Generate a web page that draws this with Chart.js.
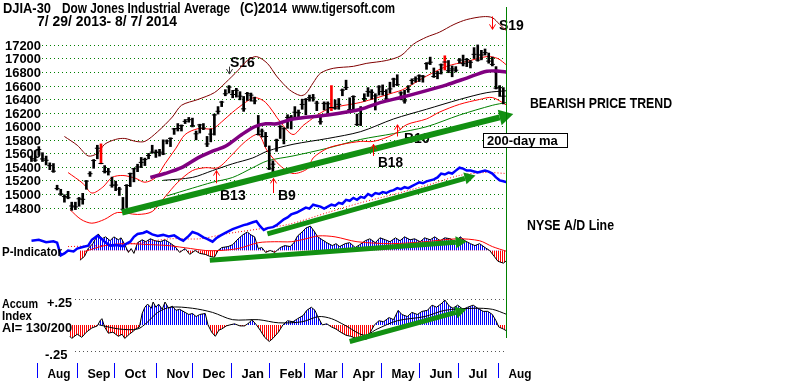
<!DOCTYPE html>
<html>
<head>
<meta charset="utf-8">
<title>DJIA-30 Dow Jones Industrial Average</title>
<script src="https://cdn.jsdelivr.net/npm/chart.js@4.4.0/dist/chart.umd.min.js"></script>
<style>
  html, body { margin: 0; padding: 0; background: #fff; }
  #wrap { width: 800px; height: 387px; }
</style>
</head>
<body>
<div id="wrap"><canvas id="chart" width="800" height="387"></canvas></div>
<script>
// trading day number, 0 = 7/29/2013 ... 259 = 8/7/2014 (one bar every 2nd day)
var priceDay = [0,2,4,6,8,10,12,14,16,18,20,22,24,26,28,30,32,34,36,38,40,42,44,46,48,50,52,54,56,58,
  60,62,64,66,68,70,72,74,76,78,80,82,84,86,88,90,92,94,96,98,100,102,104,106,108,110,112,114,116,118,
  120,122,124,126,128,130,132,134,136,138,140,142,144,146,148,150,152,154,156,158,160,162,164,166,168,170,172,174,176,178,
  180,182,184,186,188,190,192,194,196,198,200,202,204,206,208,210,212,214,216,218,220,222,224,226,228,230,232,234,236,238,
  240,242,244,246,248,250,252,254,256,258];

var priceHigh = [
  15560,15640,15700,15610,15560,15460,15450,15130,15070,14990,
  15040,14880,14880,14950,15010,15200,15330,15510,15720,15740,
  15420,15380,15250,15190,15100,14950,15140,15310,15380,15440,
  15540,15530,15600,15720,15650,15660,15800,15800,15830,15970,
  16040,16020,16100,16130,16120,15930,16030,16040,15850,15960,
  16180,16290,16370,16540,16600,16530,16560,16510,16440,16500,
  16490,16430,16160,15960,15910,15710,15490,15810,16010,15980,
  16170,16160,16290,16240,16400,16410,16460,16470,16370,16150,
  16360,16360,16600,16390,16410,16550,16680,16420,16450,16180,
  16290,16480,16570,16540,16480,16600,16610,16540,16650,16710,
  16760,16510,16530,16600,16700,16730,16760,16750,16940,17020,
  16860,16810,16920,17040,16970,16890,16880,17000,17050,17000,
  16970,17160,17200,17120,17140,17080,17020,16880,16600,16570];

var priceLow = [
  15480,15480,15570,15480,15430,15360,15320,15060,14980,14880,
  14930,14760,14770,14820,14850,15070,15260,15380,15520,15445,
  15310,15280,15100,15050,14980,14760,14800,15110,15180,15330,
  15390,15420,15520,15600,15540,15560,15580,15740,15700,15880,
  15930,15930,16040,16060,15990,15800,15900,15950,15700,15770,
  15870,16180,16290,16450,16490,16420,16430,16390,16220,16380,
  16370,16330,15870,15840,15700,15360,15330,15630,15820,15740,
  15970,15960,16100,16130,16250,16170,16370,16370,16230,16030,
  16240,16190,16230,16250,16250,16450,16540,16230,16240,16010,
  16010,16370,16440,16400,16240,16460,16460,16390,16490,16580,
  16600,16390,16340,16500,16620,16650,16660,16650,16840,16910,
  16720,16700,16770,16830,16790,16730,16800,16930,16890,16880,
  16860,17000,16960,16980,17050,16930,16890,16550,16440,16330];

var priceClose = [
  15521,15500,15658,15518,15498,15419,15337,15081,15002,14963,
  14946,14824,14810,14930,14922,15191,15300,15494,15676,15451,
  15334,15328,15130,15133,15073,14776,15126,15301,15373,15399,
  15467,15509,15568,15618,15615,15618,15593,15783,15821,15961,
  15967,16009,16072,16097,16008,15889,16020,15973,15739,15884,
  16167,16221,16357,16479,16577,16469,16530,16444,16257,16482,
  16459,16374,15879,15929,15849,15373,15441,15794,15994,15963,
  16130,16134,16207,16199,16322,16395,16421,16418,16341,16066,
  16337,16331,16277,16268,16323,16533,16573,16246,16437,16027,
  16262,16409,16514,16501,16448,16581,16513,16402,16551,16696,
  16613,16492,16374,16543,16676,16699,16744,16738,16924,16945,
  16734,16781,16906,16948,16819,16846,16827,16976,16924,16985,
  16944,17061,16976,17052,17086,16961,16913,16563,16569,16444];

var redBarDay = [38, 164, 226];

// upper band (dark red)
var bandUpDay = [18,25,31,36,40,46,51,57,62,69,77,82,91,100,106,113,118,123,129,134,141,147,150,154,158,165,176,183,194,202,209,216,223,231,238,247,252,256,260];
var bandUp = [15849,15720,15562,15600,15734,15806,15820,15777,15777,15921,16136,16309,16395,16496,16640,16826,16970,17028,16927,16740,16539,16453,16481,16640,16783,16855,16884,16927,16970,17042,17214,17315,17387,17502,17574,17617,17602,17502,17401];

// red bands
var redHiDay = [20,28,33,39,44,50,57,62,68,73,79,84,91,99,104,110,117,122,128,136,143,149,162,180,198,203,216,227,238,249,255,260];
var redHi = [15317,15159,15015,15102,15245,15274,15231,15174,15245,15447,15677,15878,15964,15964,16065,16208,16352,16424,16352,16065,15878,16022,16251,16352,16496,16539,16740,16884,16956,17028,16999,16898];
var redLoDay = [21,27,33,40,47,58,66,73,80,88,95,102,110,117,124,129,136,143,151,154,162,170,180,187,198,205,216,223,234,245,252,260];
var redLo = [14771,14627,14570,14627,14728,14699,14742,14958,15174,15346,15389,15389,15590,15777,15878,15633,15418,15303,15375,15533,15677,15734,15777,15777,15878,16022,16108,16208,16323,16395,16424,16309];

// moving averages
var ma50Day = [65,73,82,91,99,106,115,122,128,134,143,162,180,191,202,216,227,238,249,256,260];
var ma50 = [15245,15303,15389,15533,15633,15705,15878,15993,16036,16036,16108,16165,16251,16352,16424,16525,16611,16711,16812,16812,16798];
var maBlackDay = [72,88,99,110,121,129,143,162,180,198,216,234,249,260];
var maBlack = [15202,15245,15346,15447,15533,15633,15734,15820,15921,16108,16251,16395,16496,16525];
var ma200Day = [74,88,99,110,121,129,143,162,180,198,216,234,252,260];
var ma200 = [14972,15087,15174,15245,15389,15490,15562,15677,15806,15892,15993,16165,16309,16352];

// NYSE A/D line and its average
var adDay = [0,4,8,12,14,16,18,20,23,25,28,31,33,36,38,40,43,46,50,52,54,56,58,61,63,66,69,72,75,78,81,83,86,88,91,94,96,99,101,103,106,110,113,116,118,121,123,125,127,129,
  132,134,136,138,140,142,145,148,150,152,154,156,158,160,162,164,166,168,170,172,174,176,178,180,182,184,186,188,190,192,194,196,198,200,202,204,206,208,210,212,214,216,218,220,222,224,226,228,230,232,234,236,238,240,242,244,246,248,250,252,254,256,258,260];
var adLine = [1140,1150,1125,1135,1120,990,1010,1040,1030,1060,1075,1090,1150,1190,1165,1130,1090,1095,1085,1110,1130,1180,1210,1220,1235,1205,1190,1200,1185,1195,1160,1140,1190,1230,1210,1175,1160,1130,1165,1190,1220,1260,1280,1300,1310,1330,1340,1290,1250,1270,
  1280,1300,1330,1360,1380,1410,1430,1460,1480,1470,1510,1500,1490,1470,1490,1510,1500,1530,1520,1560,1550,1580,1560,1590,1580,1620,1600,1630,1620,1640,1630,1650,1660,1680,1670,1690,1680,1700,1720,1740,1730,1750,1760,1770,1790,1830,1820,1840,1830,1860,1890,1880,1860,1860,1850,1840,1850,1860,1850,1830,1790,1760,1750,1740];
var adMaDay = [20,37,55,76,92,106,124,141,162,180,201,220,234,248,260];
var adMa = [1080,1090,1110,1160,1160,1210,1260,1310,1430,1530,1630,1730,1810,1840,1830];

// P-Indicator
var pIndDay = [26.5,29,31,33.5,36.5,38.5,40.5,43,45,47.5,49,51,53,54.5,56,58,60.5,62.5,65,67.5,70.5,73,75.5,78.5,81,84,86.5,89.5,92,95,97.5,100,102,104,107.5,110,113,115.5,118,120,
  122,124,126,128,130.5,133,136,138.5,141.5,143.5,145.5,148,150,152.5,154.5,156.5,159,161.5,164.5,166.5,168.5,171.5,174,177,179.5,182.5,185,188,190.5,193.5,
  196,199,201.5,204,207,209.5,212.5,215,218,220.5,223.5,226,229,231.5,234.5,237,240,242.5,245,248,250.5,253,255,258,260];
var pInd = [-40,-24,8,28,68,48,56,40,56,44,52,24,-8,8,-12,32,44,36,48,40,36,44,32,16,-8,8,-16,0,-12,-16,-24,-28,0,12,16,24,48,64,76,64,
  56,8,12,-8,0,-8,12,20,16,32,60,76,92,100,80,56,44,32,20,28,16,28,32,12,24,40,48,32,52,44,
  36,52,40,56,44,48,36,52,44,56,40,52,48,36,56,40,28,20,28,12,0,-24,-44,-52,-40];
var pMaDay = [29,40,51,65,75,87,95,103,113,124,133,142,150,157,166,178,197,215,233,245,252,260];
var pMa = [-4,20,28,24,20,8,0,0,8,32,36,36,48,60,56,36,28,36,48,40,16,-4];

// Accumulation Index
var aiDay = [21,22,25,27.5,30,33,36,37.5,38.5,40,42,44.5,47.5,49.5,51,53.5,55,57,59,60.5,62,63.5,65.5,66.5,68,69.5,71.5,73,75,77,79,81,84,86,88,90,92,95,96.5,98.5,
  100.5,102.5,104,106.5,108.5,111,114,116.5,119,120.5,123,125,127.5,130,132,135,137.5,140,143,145.5,148.5,150.5,153,155,156.5,159,161.5,164,166.5,169,
  172,174.5,177.5,180,183,185,187.5,190,192.5,195.5,198,200.5,202.5,205.5,208,211,213.5,216.5,219,221.5,224.5,226,228.5,230.5,233,236,238.5,241.5,244,247,249.5,252,254,255.5,258,260];
var accum = [-0.11,-0.13,-0.09,-0.12,-0.07,-0.03,-0.01,0.04,0.06,-0.02,-0.08,-0.07,-0.11,-0.09,-0.13,-0.09,-0.07,-0.04,-0.02,0.11,0.17,0.2,0.16,0.22,0.17,0.2,0.15,0.22,0.16,0.18,0.14,0.15,0.12,0.1,0.11,0.08,0.1,0.11,0,-0.07,
  -0.11,-0.05,-0.04,-0.01,0,0.01,-0.01,-0.01,0.02,0.05,0,-0.05,-0.12,-0.16,-0.13,-0.07,0,0.04,0.03,0.06,0.09,0.14,0.17,0.14,0.08,0,0.01,-0.02,-0.04,-0.07,
  -0.1,-0.11,-0.13,-0.12,-0.14,-0.08,0,0.04,0.03,0.07,0.05,0.14,0.1,0.08,0.12,0.1,0.13,0.14,0.19,0.17,0.21,0.24,0.18,0.16,0.19,0.15,0.17,0.19,0.16,0.13,0.13,0.1,0.04,-0.02,-0.04,-0.06];
var aiMaDay = [37,48,58,63,69,76,88,99,110,124,135,148,157,164,171,182,189,200,215,226,242,252,260];
var aiMa = [0,-0.04,-0.04,0.02,0.12,0.17,0.16,0.12,0.05,0.05,0.02,0.03,0.08,0.06,0,-0.1,-0.04,0.04,0.08,0.14,0.16,0.15,0.1];

// green trend lines
var trendPriceDay = [49.5, 256], trendPrice = [14728, 16130];
var trendAdDay = [129, 237], trendAd = [1210, 1780];
var trendPiDay = [97.5, 232], trendPi = [-40, 34];
var trendAiDay = [174, 232], trendAi = [-0.16, 0.12];

var priceTicks = [14800,15000,15200,15400,15600,15800,16000,16200,16400,16600,16800,17000,17200];
var aiTicks = [0.25, -0.25];
var monthStart = [3,25,45,68,88,109,130,149,170,191,212,233,255];
var monthLabel = ['Aug','Sep','Oct','Nov','Dec','Jan','Feb','Mar','Apr','May','Jun','Jul','Aug'];

// signals: name, day, arrow tail and tip (price)
var signalName = ['S16','S19','B13','B9','B18','B10'];
var signalDay = [108, 251.8, 100.9, 132, 186.7, 199.8];
var signalFrom = [16880, 17620, 15159, 15015, 15562, 15849];
var signalTo = [16770, 17430, 15346, 15231, 15734, 16022];

var FONT = '"Liberation Sans", Arial, sans-serif';
var GREEN = '#129012';

function pts(days, vals) {
    return days.map(function(d, i){ return {x: d, y: vals[i]}; });
}

function stripes(ctx, color) {
    var c = document.createElement('canvas');
    c.width = 2; c.height = 1;
    var g = c.getContext('2d');
    g.fillStyle = color;
    g.fillRect(0, 0, 1, 1);
    return ctx.createPattern(c, 'repeat');
}

function text(ctx, s, x, y, size, maxW, align) {
    ctx.font = 'bold ' + size + 'px ' + FONT;
    ctx.textAlign = align || 'left';
    ctx.fillText(s, x, y, maxW);
}

function arrowHead(ctx, x, y, ang, len, half) {
    ctx.beginPath();
    ctx.moveTo(x + Math.cos(ang) * len, y + Math.sin(ang) * len);
    ctx.lineTo(x - Math.sin(ang) * half, y + Math.cos(ang) * half);
    ctx.lineTo(x + Math.sin(ang) * half, y - Math.cos(ang) * half);
    ctx.closePath();
    ctx.fill();
}

var tigerDecor = {
    id: 'tigerDecor',
    beforeDatasetsDraw: function(chart) {
        var ctx = chart.ctx, yP = chart.scales.yP, yAI = chart.scales.yAI;
        ctx.save();
        ctx.lineWidth = 1;
        ctx.setLineDash([1, 3]);
        ctx.strokeStyle = '#008000';
        priceTicks.forEach(function(v){
            var py = Math.round(yP.getPixelForValue(v)) + 0.5;
            ctx.beginPath(); ctx.moveTo(42, py); ctx.lineTo(506, py); ctx.stroke();
        });
        ctx.strokeStyle = '#555';
        aiTicks.forEach(function(v){
            var py = Math.round(yAI.getPixelForValue(v)) + 0.5;
            ctx.beginPath(); ctx.moveTo(75, py); ctx.lineTo(506, py); ctx.stroke();
        });
        ctx.setLineDash([]);

        // signal labels sit under the trend arrows
        ctx.fillStyle = '#000';
        text(ctx, 'S16', 230, 67, 14, 26);
        text(ctx, 'S19', 499, 30, 14, 25);
        text(ctx, 'B13', 220, 200, 14, 26);
        text(ctx, 'B9', 278, 200, 14, 19);
        text(ctx, 'B18', 378, 167, 14, 25);
        text(ctx, 'B10', 404, 143, 14, 32);
        ctx.restore();
    },
    afterDatasetsDraw: function(chart) {
        var ctx = chart.ctx, xs = chart.scales.x, yP = chart.scales.yP;
        ctx.save();

        // heads of the green trend lines
        chart.data.datasets.forEach(function(ds, i){
            if (!ds.arrowHead) return;
            var el = chart.getDatasetMeta(i).data;
            var a = el[el.length - 2], b = el[el.length - 1];
            ctx.fillStyle = GREEN;
            arrowHead(ctx, b.x, b.y, Math.atan2(b.y - a.y, b.x - a.x), ds.headLen, ds.headHalf);
        });

        // buy / sell arrows
        ctx.lineWidth = 1;
        signalName.forEach(function(n, i){
            var px = Math.round(xs.getPixelForValue(signalDay[i])) + 0.5;
            var y1 = yP.getPixelForValue(signalFrom[i]), y2 = yP.getPixelForValue(signalTo[i]);
            var d = y2 < y1 ? 1 : -1;
            ctx.strokeStyle = n === 'S16' ? '#333' : '#ff0000';
            ctx.beginPath();
            ctx.moveTo(px, y1); ctx.lineTo(px, y2);
            ctx.moveTo(px - 3, y2 + 5 * d); ctx.lineTo(px, y2); ctx.lineTo(px + 3, y2 + 5 * d);
            ctx.stroke();
        });

        // last-day marker
        var gx = Math.round(xs.getPixelForValue(259.7)) + 0.5;
        ctx.strokeStyle = '#008000';
        ctx.lineWidth = 1;
        ctx.beginPath(); ctx.moveTo(gx, 7); ctx.lineTo(gx, 338); ctx.stroke();

        // months
        ctx.strokeStyle = '#0000ff';
        ctx.fillStyle = '#000';
        monthStart.forEach(function(d, i){
            var mx = Math.round(xs.getPixelForValue(d)) + 0.5;
            ctx.beginPath(); ctx.moveTo(mx, 363); ctx.lineTo(mx, 378); ctx.stroke();
            text(ctx, monthLabel[i], mx + 10, 378, 13, 23);
        });

        // price scale labels
        priceTicks.forEach(function(v){
            text(ctx, String(v), 41, Math.round(yP.getPixelForValue(v)) + 5, 13, 36, 'right');
        });

        text(ctx, 'DJIA-30', 3, 13, 14, 48);
        text(ctx, 'Dow Jones Industrial Average', 62, 13, 14, 168);
        text(ctx, '(C)2014', 240, 13, 14, 47);
        text(ctx, 'www.tigersoft.com', 292, 13, 14, 103);
        text(ctx, '7/ 29/ 2013- 8/ 7/ 2014', 37, 26, 14, 140);

        text(ctx, 'BEARISH PRICE TREND', 530, 108, 14, 142);
        ctx.fillStyle = '#fff';
        ctx.fillRect(483, 133, 84, 14);
        ctx.strokeStyle = '#000';
        ctx.strokeRect(483.5, 133.5, 84, 14);
        ctx.fillStyle = '#000';
        text(ctx, '200-day ma', 487, 145, 13, 72);
        text(ctx, 'NYSE A/D Line', 527, 230, 14, 87);

        text(ctx, 'P-Indicator', 2, 256, 13, 60);
        text(ctx, 'Accum', 2, 308, 13, 36);
        text(ctx, '+.25', 47, 307, 13, 25);
        text(ctx, 'Index', 2, 320, 13, 30);
        text(ctx, 'AI= 130/200', 2, 332, 13, 70);
        text(ctx, '-.25', 45, 359, 13, 25);
        ctx.restore();
    }
};

var canvas = document.getElementById('chart');
var ctx = canvas.getContext('2d');
var blueBars = stripes(ctx, '#0000ff');
var redBars = stripes(ctx, '#ff0000');

function lineSet(days, vals, axis, color, width, order, extra) {
    var ds = {
        type: 'line', data: pts(days, vals), yAxisID: axis,
        borderColor: color, borderWidth: width, pointRadius: 0,
        tension: 0, fill: false, order: order
    };
    for (var k in extra) ds[k] = extra[k];
    return ds;
}

new Chart(ctx, {
    type: 'line',
    data: {
        datasets: [
            lineSet(trendPriceDay, trendPrice, 'yP', GREEN, 6, 0, {arrowHead: true, headLen: 14, headHalf: 8}),
            lineSet(trendAdDay, trendAd, 'yAD', GREEN, 5, 0, {arrowHead: true, headLen: 11, headHalf: 6}),
            lineSet(trendPiDay, trendPi, 'yPI', GREEN, 5, 0, {arrowHead: true, headLen: 11, headHalf: 6}),
            lineSet(trendAiDay, trendAi, 'yAI', GREEN, 5, 0, {arrowHead: true, headLen: 11, headHalf: 6}),
            lineSet(ma50Day, ma50, 'yP', '#800080', 3.5, 1, {tension: 0.3}),
            {
                type: 'line', yAxisID: 'yP', order: 2,
                data: pts(priceDay, priceClose),
                showLine: false, pointStyle: 'line', pointRadius: 2.5,
                pointBorderWidth: 1, pointBorderColor: '#000'
            },
            {
                type: 'bar', yAxisID: 'yP', order: 2,
                data: priceDay.map(function(d, i){ return {x: d, y: [priceLow[i], priceHigh[i]]}; }),
                backgroundColor: priceDay.map(function(d){ return redBarDay.indexOf(d) >= 0 ? '#ff0000' : '#000'; }),
                barThickness: 2, borderWidth: 0
            },
            lineSet(bandUpDay, bandUp, 'yP', '#800000', 1, 3, {tension: 0.3}),
            lineSet(redHiDay, redHi, 'yP', '#ff0000', 1, 3, {tension: 0.3}),
            lineSet(redLoDay, redLo, 'yP', '#ff0000', 1, 3, {tension: 0.3}),
            lineSet(maBlackDay, maBlack, 'yP', '#000', 1, 3, {tension: 0.3}),
            lineSet(ma200Day, ma200, 'yP', '#008000', 1, 3, {tension: 0.3}),
            lineSet(adDay, adLine, 'yAD', '#0000ff', 2.5, 3),
            lineSet(adMaDay, adMa, 'yAD', '#ff0000', 1, 4, {borderDash: [1, 2], tension: 0.3}),
            lineSet(pMaDay, pMa, 'yPI', '#ff0000', 1, 4, {tension: 0.3}),
            lineSet(pIndDay, pInd, 'yPI', '#000', 1, 5, {fill: {target: {value: 0}, above: blueBars, below: redBars}}),
            lineSet(aiMaDay, aiMa, 'yAI', '#000', 1, 4, {tension: 0.3}),
            lineSet(aiDay, accum, 'yAI', '#000', 1, 5, {fill: {target: {value: 0}, above: blueBars, below: redBars}})
        ]
    },
    options: {
        responsive: false,
        animation: false,
        events: [],
        layout: {padding: {left: 30, right: 293, top: 0, bottom: 0}},
        plugins: {legend: {display: false}, tooltip: {enabled: false}},
        scales: {
            x: {type: 'linear', min: -0.82, max: 260, offset: false, display: false},
            yP: {type: 'linear', min: 12227, max: 17789, display: false},
            yAD: {type: 'linear', min: -310, max: 3560, display: false},
            yPI: {type: 'linear', min: -540, max: 1008, display: false},
            yAI: {type: 'linear', min: -0.55, max: 3.08, display: false}
        }
    },
    plugins: [tigerDecor]
});
</script>
</body>
</html>
